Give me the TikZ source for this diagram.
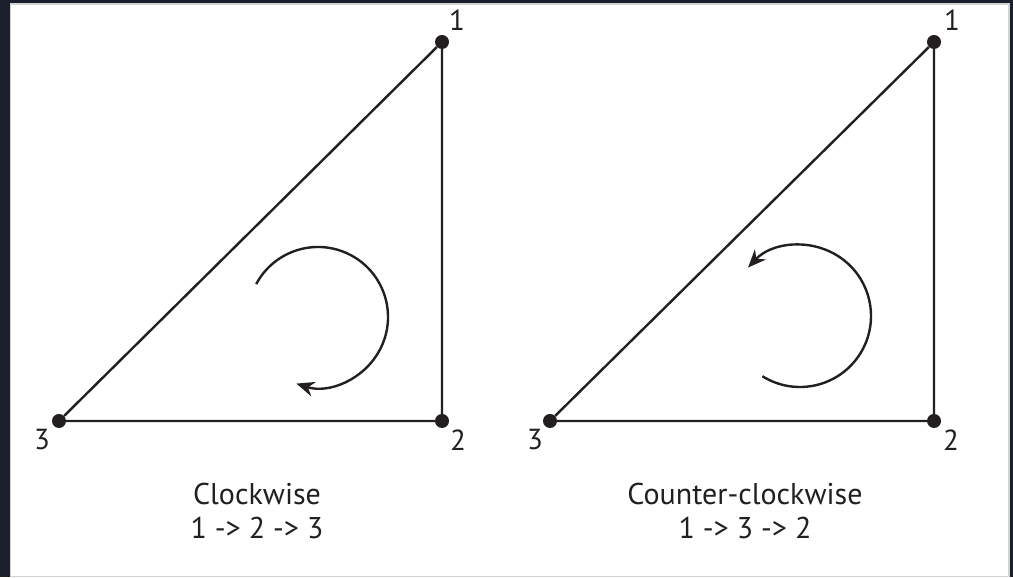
\documentclass[tikz,border=0pt]{standalone}
\usepackage{fontspec}
\setmainfont{PT Sans}
\usepackage{tikz}
\usetikzlibrary{positioning, arrows.meta}
\definecolor{framebg}{HTML}{1B1F2B}
\definecolor{ink}{HTML}{231F20}

\begin{document}
\begin{tikzpicture}[
    x=1pt, y=1pt,
    vertex/.style={circle, fill=ink, inner sep=0pt, minimum size=14pt},
    num/.style={font=\fontsize{29}{29}\selectfont, text=ink, inner sep=0pt},
    caption/.style={font=\fontsize{30}{34}\selectfont, text=ink, align=center, inner sep=0pt},
    edge/.style={draw=ink, line width=2.4pt},
    turn/.style={draw=ink, line width=2.4pt, -{Stealth[length=18pt, width=15pt]}}
]
% frame
\fill[framebg] (0,0) rectangle (1013,577);
\filldraw[fill=white, draw=gray!35, line width=1.5pt] (10.5,0.5) rectangle (1009,573);
\useasboundingbox (0,0) rectangle (1013,577);

% clockwise
\node[vertex] (l1) at (442,535) {};
\node[vertex] (l2) at (442,156) {};
\node[vertex] (l3) at (59,156) {};
\node[num] at (457,557) {1};
\node[num] at (458,137) {2};
\node[num] at (42,137) {3};
\draw[edge] (l1) -- (l2) -- (l3) -- (l1);
\draw[turn] (318,260) ++(152:70) arc[start angle=152, end angle=-108, radius=70];
\node[caption] (cw) at (257,66) {Clockwise\\1 -> 2 -> 3};

% counter-clockwise
\node[vertex] (r1) at (934,535) {};
\node[vertex] (r2) at (934,156) {};
\node[vertex] (r3) at (550,156) {};
\node[num] at (952,557) {1};
\node[num] at (951,137) {2};
\node[num] at (535,137) {3};
\draw[edge] (r1) -- (r2) -- (r3) -- (r1);
\draw[turn] (800,261) ++(-122:71) arc[start angle=-122, end angle=137, radius=71];
\node[caption] (ccw) at (745,66) {Counter-clockwise\\1 -> 3 -> 2};
\end{tikzpicture}
\end{document}
